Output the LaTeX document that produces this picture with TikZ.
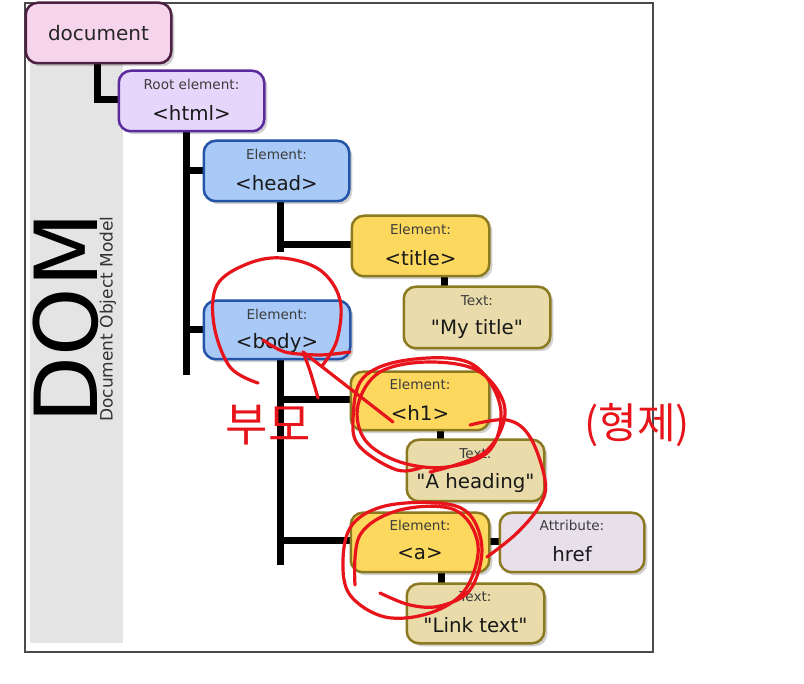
\documentclass[tikz,border=0pt]{standalone}
\usepackage{fontspec}
\setmainfont{DejaVu Sans}[Ligatures=TeXOff]
\newfontfamily\krfont{Noto Sans CJK KR}
\usetikzlibrary{calc}
\definecolor{docfill}{HTML}{F6D5EC}\definecolor{docdraw}{HTML}{4B2041}
\definecolor{htmlfill}{HTML}{E6D6FB}\definecolor{htmldraw}{HTML}{5B2A9C}
\definecolor{bluefill}{HTML}{A9C9F7}\definecolor{bluedraw}{HTML}{2354A8}
\definecolor{yelfill}{HTML}{FCD95E}\definecolor{olivedraw}{HTML}{8C7A22}
\definecolor{tanfill}{HTML}{E9DCAA}\definecolor{attrfill}{HTML}{E7DFE9}
\definecolor{labgray}{HTML}{3C3C3C}\definecolor{stripgray}{HTML}{E4E4E4}
\definecolor{framegray}{HTML}{4A4A4A}\definecolor{pen}{HTML}{E8141B}
\tikzset{
  box/.style={rounded corners=12pt, line width=2.5pt, minimum width=143pt, minimum height=58pt, inner sep=0pt},
  lab/.style={font=\fontsize{13.6}{15}\selectfont, text=labgray, inner sep=0pt},
  main/.style={font=\fontsize{19.8}{22}\selectfont, text=black!90, inner sep=0pt},
  conn/.style={line width=7pt, black},
  ink/.style={pen, line width=3.2pt, line cap=round, line join=round},
}
\begin{document}
\begin{tikzpicture}[x=1pt,y=-1pt]
\useasboundingbox (0,0) rectangle (804,684);
\fill[white] (0,0) rectangle (804,684);
% frame and strip
\fill[stripgray] (30,30) rectangle (123,643);
\draw[framegray, line width=2pt] (25,3) rectangle (653,652);
\node[rotate=90, font=\fontsize{87}{87}\selectfont, inner sep=0pt] (dom) at (66,318) {DOM};
\node[rotate=90, font=\fontsize{17}{18}\selectfont, text=black!80, inner sep=0pt] (dommodel) at (108,319) {Document Object Model};
% junction coordinates
\coordinate (j0) at (97,100);
\coordinate (j1a) at (186,130);
\coordinate (j1b) at (186,375);
\coordinate (j2a) at (280,200);
\coordinate (j2b) at (280,252);
\coordinate (j3a) at (280,358);
\coordinate (j3b) at (280,565);
% boxes
\node[box, draw=none] (doc) at (98.5,33) {};
\node[box, draw=none] (html) at (191.5,101) {};
\node[box, draw=none] (head) at (276.5,171) {};
\node[box, draw=none, minimum width=135pt] (title) at (420.5,246) {};
\node[box, draw=none, minimum width=144pt, minimum height=59pt] (mytitle) at (477,317.5) {};
\node[box, draw=none, minimum width=144pt, minimum height=56pt] (body) at (277,330) {};
\node[box, draw=none, minimum width=136pt, minimum height=56pt] (h1) at (420,401) {};
\node[box, draw=none, minimum width=135pt, minimum height=59pt] (heading) at (475.5,470.5) {};
\node[box, draw=none, minimum width=136pt, minimum height=57pt] (a) at (420,542.5) {};
\node[box, draw=none, minimum width=142pt, minimum height=57pt] (href) at (572,542.5) {};
\node[box, draw=none, minimum width=135pt, minimum height=57pt] (link) at (475.5,613.5) {};
% connectors
\draw[conn] (doc.south -| j0) -- (j0) -- (j0 -| html.west);
\draw[conn] (j1a) -- (j1b);
\draw[conn] (j1a |- head.west) -- (head.west);
\draw[conn] (j1a |- body.west) -- (body.west);
\draw[conn] (j2a) -- (j2b);
\draw[conn] (280,245) -- (title.west |- 0,245);
\draw[conn] (444,0 |- title.south) -- (444,0 |- mytitle.north);
\draw[conn] (j3a) -- (j3b);
\draw[conn] (280,400) -- (h1.west |- 0,400);
\draw[conn] (280,541) -- (a.west |- 0,541);
\draw[conn] (440,0 |- h1.south) -- (440,0 |- heading.north);
\draw[conn] (441,0 |- a.south) -- (441,0 |- link.north);
\draw[conn] (a.east |- 0,542) -- (href.west |- 0,542);
% box bodies with soft shadow
\foreach \n/\f/\d in {doc/docfill/docdraw, html/htmlfill/htmldraw, head/bluefill/bluedraw, title/yelfill/olivedraw, mytitle/tanfill/olivedraw, body/bluefill/bluedraw, h1/yelfill/olivedraw, heading/tanfill/olivedraw, a/yelfill/olivedraw, href/attrfill/olivedraw, link/tanfill/olivedraw}
{
  \fill[black, opacity=0.18, rounded corners=12pt] ($(\n.south west)+(3,3)$) rectangle ($(\n.north east)+(3,3)$);
  \draw[rounded corners=12pt, line width=2.5pt, fill=\f, draw=\d] (\n.south west) rectangle (\n.north east);
}
% texts
\node[inner sep=0pt, font=\fontsize{20}{24}\selectfont, text=black!85] (tdoc) at (doc.center) {document};
\node[lab] (lhtml) at ($(html.north)+(0,14)$) {Root element:};
\node[main] (mhtml) at ($(html.north)+(0,42)$) {<html>};
\node[lab] (lhead) at ($(head.north)+(0,14)$) {Element:};
\node[main] (mhead) at ($(head.north)+(0,42)$) {<head>};
\node[lab] (ltitle) at ($(title.north)+(0,14)$) {Element:};
\node[main] (mtitle) at ($(title.north)+(0,42)$) {<title>};
\node[lab] (lmytitle) at ($(mytitle.north)+(0,14)$) {Text:};
\node[main] (mmytitle) at ($(mytitle.north)+(0,42)$) {"My title"};
\node[lab] (lbody) at ($(body.north)+(0,14)$) {Element:};
\node[main] (mbody) at ($(body.north)+(0,42)$) {<body>};
\node[lab] (lh1) at ($(h1.north)+(0,13)$) {Element:};
\node[main] (mh1) at ($(h1.north)+(0,41)$) {<h1>};
\node[lab] (lheading) at ($(heading.north)+(0,14)$) {Text:};
\node[main] (mheading) at ($(heading.north)+(0,43)$) {"A heading"};
\node[lab] (la) at ($(a.north)+(0,13)$) {Element:};
\node[main] (ma) at ($(a.north)+(0,41)$) {<a>};
\node[lab] (lhref) at ($(href.north)+(0,13)$) {Attribute:};
\node[main] (mhref) at ($(href.north)+(0,41)$) {href};
\node[lab] (llink) at ($(link.north)+(0,13)$) {Text:};
\node[main] (mlink) at ($(link.north)+(0,41)$) {"Link text"};
% red handwritten annotations
\draw[ink] plot[smooth, tension=0.6] coordinates {(258,383) (230,367) (214,325) (217,285) (247,264) (282,258) (320,270) (340,300) (337,340) (322,366)};
\draw[ink] plot[smooth] coordinates {(263,340) (285,352) (320,355) (350,352)};
\draw[ink] (393,422) -- (303,352);
\draw[ink] (303,352) .. controls (310,370) .. (318,398);
\draw[ink] plot[smooth, tension=0.6] coordinates {(423,467) (397,470) (360,447) (353,420) (363,378) (407,360) (470,363) (500,405) (490,450) (447,467) (400,462) (365,440) (358,405) (380,372) (430,362) (480,372) (505,410) (485,452) (430,472)};
\draw[ink] plot[smooth, tension=0.6] coordinates {(470,425) (507,420) (530,437) (545,480) (540,505) (517,533) (487,557)};
\draw[ink] plot[smooth, tension=0.6] coordinates {(380,593) (410,605) (440,606) (470,590) (482,550) (470,515) (440,503) (385,506) (352,525) (343,560) (350,595) (385,617) (430,613) (465,590) (478,545) (455,510) (400,510) (360,535) (355,585)};
\node[pen, font=\krfont\fontsize{46}{48}\selectfont, inner sep=0pt] (parent) at (268,425) {부모};
\node[pen, font=\krfont\fontsize{42}{46}\selectfont, inner sep=0pt] (sibling) at (637,425) {(형제)};
\end{tikzpicture}
\end{document}
